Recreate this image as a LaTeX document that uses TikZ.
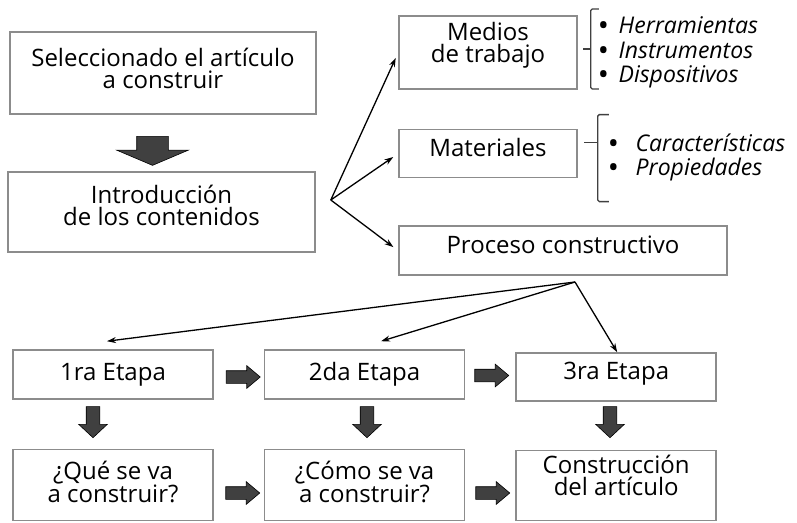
\documentclass[tikz,border=0pt]{standalone}
\usepackage{fontspec}
\setmainfont{Open Sans}
\usetikzlibrary{positioning}
\usetikzlibrary{shapes.arrows}
\usetikzlibrary{arrows.meta}

\definecolor{boxgray}{gray}{0.55}
\definecolor{blockgray}{gray}{0.25}
\newcommand{\itemdot}[1][11pt]{{\upshape\bfseries\textbullet}\hspace{#1}}

\begin{document}
\begin{tikzpicture}[x=1pt, y=-1pt,
  box/.style={draw=boxgray, line width=1.6pt, fill=white, align=center,
    inner sep=0pt, font=\fontsize{24}{22}\selectfont},
  lift/.style={text depth=#1},
  items/.style={align=left, inner sep=0pt, font=\fontsize{23}{24.5}\selectfont\itshape},
  bracket/.style={draw=black!75, line width=1.3pt, rounded corners=1.5pt},
  thin/.style={-{Stealth[length=9pt, width=6pt]}, line width=1.3pt},
  block/.style={shape=single arrow, draw=black, line width=0.6pt, fill=blockgray,
    inner xsep=0pt, single arrow head indent=0pt},
  bigdown/.style={block, rotate=-90, inner ysep=15.5pt, minimum height=29pt,
    single arrow head extend=20pt, single arrow tip angle=134},
  smalldown/.style={block, rotate=-90, inner ysep=6.5pt, minimum height=31pt,
    single arrow head extend=7.5pt, single arrow tip angle=94},
  smallright/.style={block, inner ysep=6pt, minimum height=34pt,
    single arrow head extend=5pt, single arrow tip angle=80}]
  \useasboundingbox[fill=white] (0,0) rectangle (797,522);

  % upper part
  \node[box, lift=10pt, minimum width=306pt, minimum height=82pt] (sel) at (163,73)
    {Seleccionado el artículo\\a construir};
  \node[box, lift=14pt, minimum width=307pt, minimum height=80pt] (intro) at (161.5,212)
    {Introducción\\de los contenidos};
  \node[bigdown] (down0) at (152.5,147.5) {};

  \begin{scope}[minimum width=178pt]
    \node[box, lift=21pt, minimum height=73pt] (medios) at (488,52.5) {Medios\\de trabajo};
    \node[box, lift=12pt, minimum height=48pt, below=39pt of medios] (mater) {Materiales};
  \end{scope}
  \node[box, lift=12pt, minimum width=328pt, minimum height=49pt,
    below=47pt of mater.south west, anchor=north west] (proceso) {Proceso constructivo};

  \node[items, right=21pt of medios] (medlist)
    {\itemdot Herramientas\\\itemdot Instrumentos\\\itemdot Dispositivos};
  \node[items, right=31pt of mater, yshift=-4pt] (matlist)
    {\itemdot[18pt]Características\\\itemdot[18pt]Propiedades};
  \draw[bracket] ([shift={(21,-43.5)}]medios.east) -- ++(-8,0) -- ++(0,80) -- ++(8,0);
  \draw[bracket] ([shift={(13,-3.5)}]medios.east) -- ++(-8,0);
  \draw[bracket] ([shift={(31,-39)}]mater.east) -- ++(-11,0) -- ++(0,87) -- ++(11,0);
  \draw[bracket] ([shift={(20,-11)}]mater.east) -- ++(-14,0);

  \coordinate (fan) at ([shift={(15,-12)}]intro.east);
  \draw[thin, shorten >=6pt] (fan) -- (medios.west);
  \draw[thin, shorten >=6pt] (fan) -- (mater.west);
  \draw[thin, shorten >=6pt] (fan) -- (proceso.west);

  % stages
  \begin{scope}[minimum width=200pt]
    \node[box, minimum height=49pt] (etapa1) at (113,374.5) {1ra Etapa};
    \node[box, minimum height=49pt, right=50pt of etapa1] (etapa2) {2da Etapa};
    \node[box, lift=12pt, minimum height=48pt, right=50pt of etapa2, yshift=-2.5pt] (etapa3) {3ra Etapa};
    \node[box, lift=6pt, minimum height=71pt, below=49pt of etapa1] (que) {¿Qué se va\\a construir?};
    \node[box, lift=6pt, minimum height=71pt, below=49pt of etapa2] (como) {¿Cómo se va\\a construir?};
    \node[box, lift=20pt, minimum height=70pt, below=48pt of etapa3] (constr) {Construcción\\del artículo};
  \end{scope}

  \coordinate (split) at ([shift={(12,6)}]proceso.south);
  \draw[thin] (split) -- ([shift={(-6,-8)}]etapa1.north);
  \draw[thin] (split) -- ([shift={(16.5,-8)}]etapa2.north);
  \draw[thin] (split) -- ([xshift=1pt]etapa3.north);

  \node[smallright] (right1) at (239.5,377) {};
  \node[smallright] (right2) at (488,375.5) {};
  \node[smallright] (right3) at (239,493) {};
  \node[smallright] (right4) at (489,493) {};
  \node[smalldown] (down1) at (93,419) {};
  \node[smalldown] (down2) at (367,419) {};
  \node[smalldown] (down3) at (610,419) {};
\end{tikzpicture}
\end{document}
